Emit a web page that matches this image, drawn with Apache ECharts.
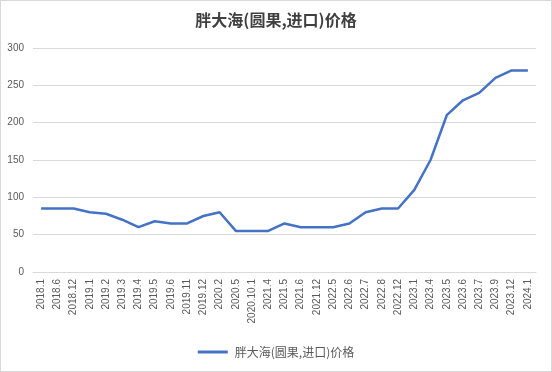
<!DOCTYPE html>
<html><head><meta charset="utf-8">
<script src="https://cdn.jsdelivr.net/npm/echarts@6/dist/echarts.min.js"></script>
<style>html,body{margin:0;padding:0;background:#fff}#c{width:550px;height:370px;border:1px solid #d9d9d9}</style>
</head><body><div id="c"></div>
<script>
const categories = ["2018.1","2018.6","2018.12","2019.1","2019.2","2019.3","2019.4","2019.5","2019.6","2019.11","2019.12","2020.2","2020.5","2020.10.1","2021.4","2021.5","2021.6","2021.12","2022.5","2022.6","2022.7","2022.8","2022.12","2023.1","2023.4","2023.5","2023.6","2023.7","2023.9","2023.12","2024.1"];
const prices = [85,85,85,80,78,70,60,68,65,65,75,80,55,55,55,65,60,60,60,65,80,85,85,110,150,210,230,240,260,270,270];
const seriesName = "胖大海(圆果,进口)价格";
const chart = echarts.init(document.getElementById('c'));
const font = '"Noto Sans CJK SC", "Microsoft YaHei", sans-serif';
chart.setOption({
  animation:false,
  title:{text:seriesName,left:'center',top:6,textStyle:{fontFamily:font,fontSize:16,fontWeight:'bold',color:'#404040'}},
  legend:{bottom:8,left:'center',itemWidth:30,itemHeight:3,itemGap:10,icon:'rect',textStyle:{fontFamily:font,fontSize:12,color:'#595959',padding:[0,0,0,2]},data:[seriesName]},
  grid:{left:32,right:15,top:47,bottom:99},
  xAxis:{type:'category',data:categories,boundaryGap:true,
    axisLine:{lineStyle:{color:'#d9d9d9'}},axisTick:{show:false},
    axisLabel:{rotate:90,interval:0,fontSize:10,color:'#595959',fontFamily:'"Liberation Sans", sans-serif',margin:7}},
  yAxis:{type:'value',min:0,max:300,interval:50,
    axisLine:{show:false},axisTick:{show:false},
    splitLine:{lineStyle:{color:'#d9d9d9'}},
    axisLabel:{fontSize:10,color:'#595959',fontFamily:'"Liberation Sans", sans-serif',margin:9}},
  series:[{name:seriesName,type:'line',data:prices,showSymbol:false,symbol:'none',
    lineStyle:{color:'#4472C4',width:2.5},itemStyle:{color:'#4472C4'}}]
});
</script></body></html>
